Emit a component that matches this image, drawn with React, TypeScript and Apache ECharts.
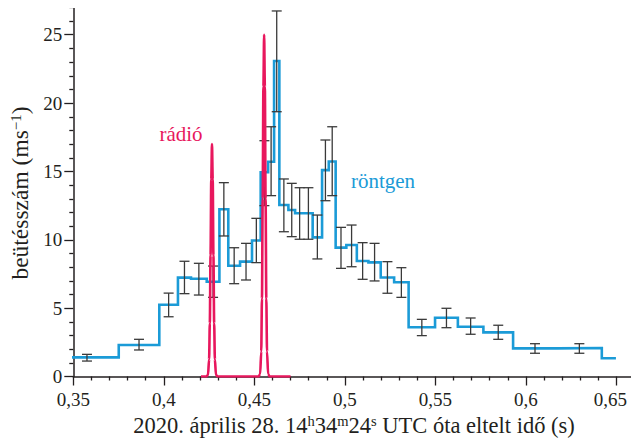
import React, { useEffect, useRef } from 'react';
import * as echarts from 'echarts';

// X-ray histogram: bin edges (s) and count rates (ms^-1)
const binEdges = [0.34, 0.3751, 0.3975, 0.4078, 0.4150, 0.4237, 0.4307, 0.4356, 0.4421, 0.4487, 0.4535, 0.4576, 0.4609, 0.4638, 0.4688, 0.4725, 0.4775, 0.4822, 0.4874, 0.4911, 0.4949, 0.5008, 0.5066, 0.5130, 0.5198, 0.5272, 0.5352, 0.5498, 0.5624, 0.5765, 0.5929, 0.6171, 0.6419, 0.6497];
const countRates = [1.40, 2.30, 5.25, 7.23, 7.15, 6.93, 12.23, 8.10, 8.40, 9.95, 14.94, 15.71, 23.08, 12.55, 12.18, 11.94, 11.94, 10.18, 15.10, 15.73, 9.43, 9.62, 8.45, 8.35, 7.24, 6.90, 3.60, 4.30, 3.64, 3.23, 2.06, 2.08, 1.33];
const errLow = [1.13, 1.94, 4.37, 6.06, 5.96, 5.79, 10.28, 6.79, 7.06, 8.33, 12.50, 13.23, 19.37, 10.59, 10.23, 10.04, 10.04, 8.60, 12.86, 13.23, 7.91, 8.03, 7.11, 6.99, 6.09, 5.79, 2.99, 3.57, 3.09, 2.72, 1.70, 1.70, null];
const errHigh = [1.62, 2.72, 6.10, 8.43, 8.28, 8.08, 14.18, 9.42, 9.74, 11.57, 17.25, 18.27, 26.74, 14.45, 14.13, 13.81, 13.81, 11.81, 17.30, 18.27, 10.91, 11.08, 9.79, 9.74, 8.40, 7.96, 4.18, 4.99, 4.28, 3.75, 2.40, 2.40, null];

// Radio signal (two narrow bursts)
const radioTimes = [0.4205, 0.4236, 0.4244, 0.4250, 0.4254, 0.4258, 0.4262, 0.4266, 0.4270, 0.4274, 0.4278, 0.4282, 0.4288, 0.4296,
  0.4524, 0.4532, 0.4538, 0.4542, 0.4546, 0.4550, 0.4554, 0.4558, 0.4562, 0.4566, 0.4570, 0.4576, 0.4584, 0.4700];
const radioValues = [0, 0, 0.12, 1.25, 3.9, 8.85, 14.4, 17, 14.4, 8.85, 3.9, 1.25, 0.12, 0,
  0, 0.18, 1.83, 5.7, 13, 21.2, 25, 21.2, 13, 5.7, 1.83, 0.18, 0, 0];

const FONT = 'Liberation Serif';
const TEXT = '#231f20';
const BLUE = '#1b9bd7';
const RED = '#e8175d';

export default function App() {
  const ref = useRef<HTMLDivElement>(null);
  useEffect(() => {
    if (!ref.current) return;
    const chart = echarts.init(ref.current, undefined, { renderer: 'svg' });

    const stepData: number[][] = [];
    for (let i = 0; i < countRates.length; i++) {
      stepData.push([binEdges[i], countRates[i]]);
      stepData.push([binEdges[i + 1], countRates[i]]);
    }
    const errData: number[][] = [];
    for (let i = 0; i < countRates.length; i++) {
      const lo = errLow[i];
      const hi = errHigh[i];
      if (lo == null || hi == null) continue;
      errData.push([(binEdges[i] + binEdges[i + 1]) / 2, lo, hi]);
    }
    const radioData = radioTimes.map((t, i) => [t, radioValues[i]]);

    const axisCommon = {
      type: 'value' as const,
      splitLine: { show: false },
      axisLine: { show: true, lineStyle: { color: TEXT, width: 1.5 } },
      axisTick: { show: true, length: 9, lineStyle: { color: TEXT, width: 1.3 } },
      minorTick: { show: true, splitNumber: 5, length: 4, lineStyle: { color: TEXT, width: 1.3 } },
    };

    chart.setOption({
      animation: false,
      grid: { left: 73.3, right: -76, top: -33.6, bottom: 61.5, outerBoundsMode: 'none', containLabel: false },
      xAxis: {
        ...axisCommon,
        min: 0.35,
        max: 0.7,
        interval: 0.05,
        axisLabel: {
          fontFamily: FONT,
          fontSize: 19,
          color: TEXT,
          margin: 13,
          formatter: (v: number) => {
            if (v > 0.66) return '';
            const s = String(Math.round(v * 100) / 100).replace('.', ',');
            return v > 0.64 ? '{r|' + s + '}' : s;
          },
          rich: { r: { fontFamily: FONT, fontSize: 19, color: TEXT, padding: [0, 12, 0, 0] } },
        },
      },
      yAxis: {
        ...axisCommon,
        min: 0,
        max: 30,
        interval: 5,
        axisLabel: {
          fontFamily: FONT, fontSize: 19, color: TEXT, margin: 11,
          formatter: (v: number) => (v > 27 ? '' : String(v)),
        },
      },
      series: [
        {
          type: 'line',
          data: stepData,
          showSymbol: false,
          lineStyle: { color: BLUE, width: 2.6, join: 'miter' },
          z: 2,
        },
        {
          type: 'custom',
          data: errData,
          encode: { x: 0, y: [1, 2] },
          z: 3,
          renderItem: (params: any, api: any) => {
            const x = api.value(0);
            const pLo = api.coord([x, api.value(1)]);
            const pHi = api.coord([x, api.value(2)]);
            const w = 5;
            const st = { stroke: '#3a3a3a', lineWidth: 1.3 };
            return {
              type: 'group',
              children: [
                { type: 'line', shape: { x1: pLo[0], y1: pLo[1], x2: pHi[0], y2: pHi[1] }, style: st },
                { type: 'line', shape: { x1: pLo[0] - w, y1: pLo[1], x2: pLo[0] + w, y2: pLo[1] }, style: st },
                { type: 'line', shape: { x1: pHi[0] - w, y1: pHi[1], x2: pHi[0] + w, y2: pHi[1] }, style: st },
              ],
            };
          },
        },
        {
          type: 'line',
          data: radioData,
          showSymbol: false,
          smooth: 0.3,
          smoothMonotone: 'x',
          lineStyle: { color: RED, width: 2.6 },
          z: 4,
        },
      ],
      graphic: [
        { type: 'rect', shape: { x: 0, y: 0, width: 631, height: 8 }, style: { fill: '#fff' }, z: 100 },
        {
          type: 'text', x: 181, y: 134, z: 50,
          style: { text: 'rádió', fill: RED, fontFamily: FONT, fontSize: 21, align: 'center', verticalAlign: 'middle' },
        },
        {
          type: 'text', x: 383, y: 181, z: 50,
          style: { text: 'röntgen', fill: BLUE, fontFamily: FONT, fontSize: 21, align: 'center', verticalAlign: 'middle' },
        },
        {
          type: 'text', x: 354, y: 425, z: 50,
          style: {
            text: '2020. április 28. 14{sup|h}34{sup|m}24{sup|s} UTC óta eltelt idő (s)',
            fill: TEXT, fontFamily: FONT, fontSize: 22.5, align: 'center', verticalAlign: 'middle',
            rich: { sup: { fontFamily: FONT, fontSize: 14.5, fill: TEXT, verticalAlign: 'top' } },
          },
        },
        {
          type: 'text', x: 20, y: 193, rotation: Math.PI / 2, z: 50,
          style: {
            text: 'beütésszám (ms{sup|−1})',
            fill: TEXT, fontFamily: FONT, fontSize: 23.5, align: 'center', verticalAlign: 'middle',
            rich: { sup: { fontFamily: FONT, fontSize: 15, fill: TEXT, verticalAlign: 'top' } },
          },
        },
      ],
    });
    return () => chart.dispose();
  }, []);
  return <div ref={ref} style={{ position: 'fixed', left: 0, top: 0, width: 631, height: 438, background: '#fff' }} />;
}
